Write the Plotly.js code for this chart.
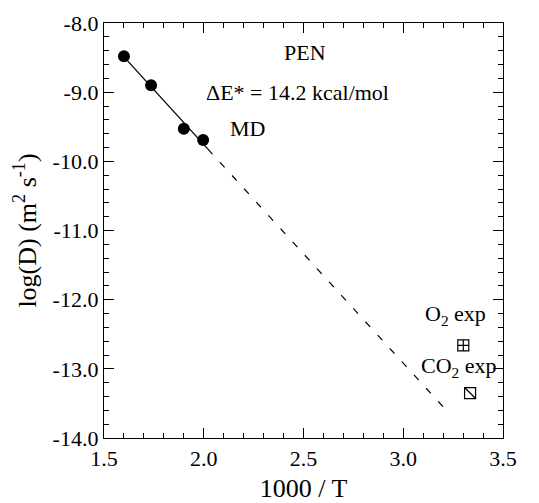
<!DOCTYPE html>
<html><head><meta charset="utf-8">
<script src="https://cdn.plot.ly/plotly-3.0.1.min.js"></script>
<style>body{margin:0;padding:0;background:#fff}#c{width:539px;height:503px}</style>
</head><body><div id="c"></div>
<script>
// MD data points
var mdX = [1.600, 1.736, 1.900, 1.997];
var mdY = [-8.48, -8.90, -9.53, -9.69];
// Arrhenius fit (solid) and extrapolation (dashed)
var fitX = [1.600, 2.020];
var fitY = [-8.49, -9.82];
var extX = [2.020, 3.200];
var extY = [-9.82, -13.55];
// experimental values
var o2X = [3.301], o2Y = [-12.66];
var co2X = [3.335], co2Y = [-13.35];
// tick labels
var xTickVals = [1.5, 2.0, 2.5, 3.0, 3.5];
var xTickText = ['1.5', '2.0', '2.5', '3.0', '3.5'];
var yTickVals = [-8, -9, -10, -11, -12, -13, -14];
var yTickText = ['-8.0', '-9.0', '-10.0', '-11.0', '-12.0', '-13.0', '-14.0'];

var F = "Liberation Serif, Times New Roman, serif";
var traces = [
  {x: fitX, y: fitY, mode: 'lines', line: {color: '#000', width: 1.3}, hoverinfo: 'skip'},
  {x: extX, y: extY, mode: 'lines', line: {color: '#000', width: 1.2, dash: '7px,11px'}, hoverinfo: 'skip'},
  {x: mdX, y: mdY, mode: 'markers', marker: {color: '#000', size: 12, symbol: 'circle'}},
  {x: o2X, y: o2Y, mode: 'markers', marker: {color: '#000', size: 11, symbol: 'square-cross-open', line: {width: 1.2, color: '#000'}}},
  {x: co2X, y: co2Y, mode: 'markers', marker: {color: '#000', size: 11, symbol: 'square-open', line: {width: 1.2, color: '#000'}}},
  {x: co2X, y: co2Y, mode: 'markers', marker: {color: '#000', size: 11, symbol: 'line-nw', line: {width: 1.2, color: '#000'}}}
];
var axBase = {
  showgrid: false, zeroline: false, showline: true, linecolor: '#000', linewidth: 1.2,
  mirror: 'allticks', ticks: 'inside', ticklen: 10, tickwidth: 1.2, tickcolor: '#000',
  tickfont: {family: F, size: 22, color: '#000'}
};
var layout = {
  width: 539, height: 503, showlegend: false,
  paper_bgcolor: '#fff', plot_bgcolor: '#fff',
  margin: {l: 104, r: 36, t: 23, b: 65},
  xaxis: Object.assign({}, axBase, {
    range: [1.5, 3.5], tickmode: 'array', tickvals: xTickVals, ticktext: xTickText,
    minor: {dtick: 0.1, tick0: 1.5, ticks: 'inside', ticklen: 5, tickwidth: 1, tickcolor: '#000', showgrid: false},
    title: {text: '1000 / T', font: {family: F, size: 26, color: '#000'}, standoff: 10}
  }),
  yaxis: Object.assign({}, axBase, {
    range: [-14, -8], tickmode: 'array', tickvals: yTickVals, ticktext: yTickText,
    minor: {dtick: 0.2, tick0: -14, ticks: 'inside', ticklen: 5, tickwidth: 1, tickcolor: '#000', showgrid: false},
    title: {text: 'log(D) (m<sup>2</sup> s<sup>-1</sup>)', font: {family: F, size: 26, color: '#000'}, standoff: 8}
  }),
  annotations: [
    {x: 2.51, y: -8.42, text: 'PEN'},
    {x: 2.47, y: -9.0, text: 'ΔE* = 14.2 kcal/mol'},
    {x: 2.22, y: -9.52, text: 'MD'},
    {x: 3.26, y: -12.22, text: 'O<sub>2</sub> exp'},
    {x: 3.28, y: -12.98, text: 'CO<sub>2</sub> exp'}
  ].map(function(a){return Object.assign({xref:'x', yref:'y', showarrow:false, font:{family:F, size:22, color:'#000'}}, a);})
};
Plotly.newPlot('c', traces, layout, {staticPlot: true, displayModeBar: false});
</script></body></html>
